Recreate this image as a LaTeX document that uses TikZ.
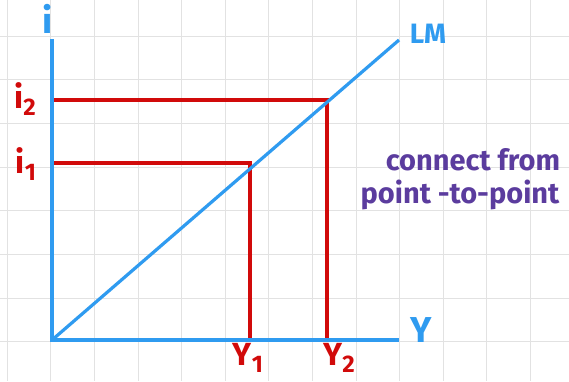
\documentclass[tikz,border=0pt]{standalone}
\usepackage{fontspec}
\setmainfont{Fira Sans}
\definecolor{lmblue}{HTML}{2F9BF0}
\definecolor{guidered}{HTML}{D10A0A}
\definecolor{notepurple}{HTML}{5B3C9E}
\definecolor{gridgray}{HTML}{E2E2E2}
\newcommand{\lowidx}[1]{\raisebox{-0.22em}{\fontsize{24}{24}\selectfont #1}}

\begin{document}
\begin{tikzpicture}[x=1pt, y=-1pt,
    gridline/.style={draw=gridgray, line width=1pt},
    axis/.style={draw=lmblue, line width=3.6pt},
    guide/.style={draw=guidered, line width=3.4pt},
    bluelbl/.style={inner sep=0pt, text=lmblue, font=\bfseries\fontsize{36}{36}\selectfont},
    redlbl/.style={inner sep=0pt, text=guidered, font=\bfseries\fontsize{32}{32}\selectfont},
    note/.style={inner sep=0pt, text=notepurple, font=\bfseries\fontsize{29}{29}\selectfont},
]

% page and grid paper
\fill[white] (0,0) rectangle (569,381);
\useasboundingbox (0,0) rectangle (569,381);
\foreach \k in {0,...,12}
    \draw[gridline] (7.2+43.6*\k, 0) -- (7.2+43.6*\k, 381);
\foreach \k in {0,...,7}
    \draw[gridline] (0, 36+43.7*\k) -- (569, 36+43.7*\k);

% key points
\coordinate (O)     at (52, 340);
\coordinate (itop)  at (52, 39);
\coordinate (yend)  at (399, 340);
\coordinate (lmend) at (399, 40);
\coordinate (i1pt)  at (52, 163);
\coordinate (i2pt)  at (52, 100);
\coordinate (y1pt)  at (250, 340);
\coordinate (y2pt)  at (327, 340);

% red guide lines
\draw[guide] (i1pt) -| (y1pt);
\draw[guide] (i2pt) -| (y2pt);

% axes and LM curve
\draw[axis] (itop) -- (O) -- (yend);
\draw[axis, line width=3.2pt] (O) -- (lmend);

% axis labels
\node[bluelbl] (ilbl)  at (48, 19)  {i};
\node[bluelbl] (ylbl)  at (421, 330) {Y};
\node[bluelbl, font=\bfseries\fontsize{28}{28}\selectfont] (lmlbl) at (428, 34) {LM};

% levels
\node[redlbl] (i2lbl) at (25, 99)  {i\lowidx{2}};
\node[redlbl] (i1lbl) at (26, 164) {i\lowidx{1}};
\node[redlbl] (y1lbl) at (248, 358) {Y\lowidx{1}};
\node[redlbl] (y2lbl) at (339, 358) {Y\lowidx{2}};

% side note
\node[note] (note1) at (473, 160) {connect from};
\node[note] (note2) at (460, 195) {point -to-point};

\end{tikzpicture}
\end{document}
